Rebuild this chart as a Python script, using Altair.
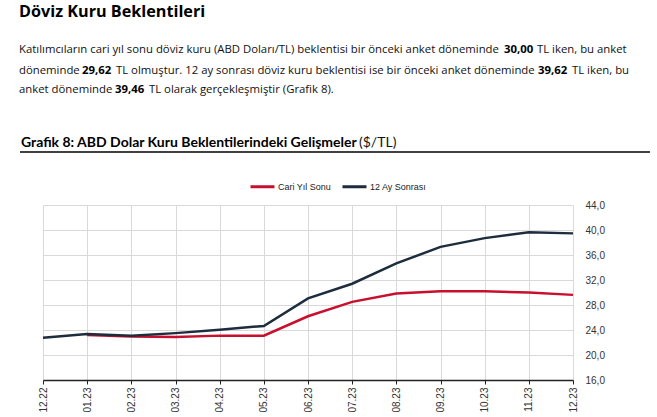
import altair as alt
import pandas as pd

# ---- data ----
months = ["12.22", "01.23", "02.23", "03.23", "04.23", "05.23", "06.23",
          "07.23", "08.23", "09.23", "10.23", "11.23", "12.23"]
series_names = ["Cari Yıl Sonu", "12 Ay Sonrası"]
cari_yil_sonu = [None, 23.2, 22.95, 22.9, 23.1, 23.1, 26.2, 28.5, 29.85, 30.2, 30.2, 30.00, 29.62]
ay12_sonrasi = [22.75, 23.35, 23.1, 23.5, 24.05, 24.65, 29.05, 31.4, 34.65, 37.3, 38.7, 39.62, 39.46]
y_ticks = [16, 20, 24, 28, 32, 36, 40, 44]

heading = "Döviz Kuru Beklentileri"
para_line1 = ["Katılımcıların cari yıl sonu döviz kuru (ABD Doları/TL) beklentisi bir önceki anket döneminde",
              "30,00", "TL iken, bu anket"]
para_line2 = ["döneminde", "29,62",
              "TL olmuştur. 12 ay sonrası döviz kuru beklentisi ise bir önceki anket döneminde",
              "39,62", "TL iken, bu"]
para_line3 = ["anket döneminde", "39,46", "TL olarak gerçekleşmiştir (Grafik 8)."]
chart_title_bold = "Grafik 8: ABD Dolar Kuru Beklentilerindeki Gelişmeler"
chart_title_unit = "($/TL)"

rows = []
for name, vals in zip(series_names, [cari_yil_sonu, ay12_sonrasi]):
    for m, v in zip(months, vals):
        if v is not None:
            rows.append({"month": m, "series": name, "value": v})
df = pd.DataFrame(rows)

# ---- layout ----
W, H = 530, 175
OX, OY = 43, 205  # plot origin in page pixels
RED = "#C8102E"
NAVY = "#1E2D3D"
TXT_FONT = "Open Sans"
AX_FONT = "Liberation Sans"
PSIZE = 11.35


def txt(s, x, y, size=PSIZE, weight="normal", color="#111111", font=TXT_FONT):
    return alt.Chart(pd.DataFrame({"t": [s]})).mark_text(
        align="left", baseline="alphabetic", font=font, fontSize=size,
        fontWeight=weight, color=color
    ).encode(text="t:N", x=alt.value(x - OX), y=alt.value(y - OY))


lines = alt.Chart(df).mark_line(strokeWidth=2.5).encode(
    x=alt.X("month:O", sort=months, title=None,
            scale=alt.Scale(type="point", padding=0),
            axis=alt.Axis(labelAngle=270, labelFont=AX_FONT, labelFontSize=10,
                          labelColor="#333333", domainColor="#222222", domainWidth=1.5,
                          tickColor="#222222", tickSize=4, labelPadding=3,
                          grid=True, gridColor="#d9d9d9", gridWidth=1)),
    y=alt.Y("value:Q", title=None,
            scale=alt.Scale(domain=[16, 44], nice=False, zero=False),
            axis=alt.Axis(orient="right", values=y_ticks,
                          labelExpr="replace(format(datum.value, '.1f'), '.', ',')",
                          labelFont=AX_FONT, labelFontSize=10, labelColor="#333333",
                          ticks=False, domain=False, labelPadding=12,
                          grid=True, gridColor="#d9d9d9", gridWidth=1)),
    color=alt.Color("series:N", sort=series_names,
                    scale=alt.Scale(domain=series_names, range=[RED, NAVY]),
                    legend=alt.Legend(title=None, orient="none", direction="horizontal",
                                      legendX=206, legendY=-32,
                                      symbolType="stroke", symbolSize=576,
                                      symbolStrokeWidth=3, labelFont=AX_FONT,
                                      labelFontSize=9, labelColor="#222222",
                                      labelOffset=2, columnPadding=4, padding=0)),
)

layers = [lines]
layers.append(txt(heading, 19, 17, size=16.2, weight="bold", color="#000000"))
# line 1
layers.append(txt(para_line1[0], 19, 53))
layers.append(txt(para_line1[1], 504, 53, weight="bold", color="#000000"))
layers.append(txt(para_line1[2], 537, 53))
# line 2
layers.append(txt(para_line2[0], 19, 74))
layers.append(txt(para_line2[1], 82, 74, weight="bold", color="#000000"))
layers.append(txt(para_line2[2], 116, 74))
layers.append(txt(para_line2[3], 538, 74, weight="bold", color="#000000"))
layers.append(txt(para_line2[4], 572, 74))
# line 3
layers.append(txt(para_line3[0], 19, 93))
layers.append(txt(para_line3[1], 115, 93, weight="bold", color="#000000"))
layers.append(txt(para_line3[2], 149, 93))
# chart title
layers.append(txt(chart_title_bold, 21, 147, size=14, weight="bold", color="#000000", font="Lato"))
layers.append(txt(chart_title_unit, 359, 147, size=14, color="#111111", font="Lato"))
# title rule
layers.append(alt.Chart(pd.DataFrame({"a": [0]})).mark_rule(color="#000000", strokeWidth=1.5).encode(
    x=alt.value(20 - OX), x2=alt.value(650 - OX), y=alt.value(152 - OY)))

chart = alt.layer(*layers).properties(
    width=W, height=H,
    autosize=alt.AutoSizeParams(type="none"),
    padding={"left": OX, "top": OY, "right": 657 - OX - W, "bottom": 417 - OY - H},
    background="white",
).configure_view(strokeWidth=0)

chart.save("out.html", embed_options={"renderer": "svg", "actions": False})
